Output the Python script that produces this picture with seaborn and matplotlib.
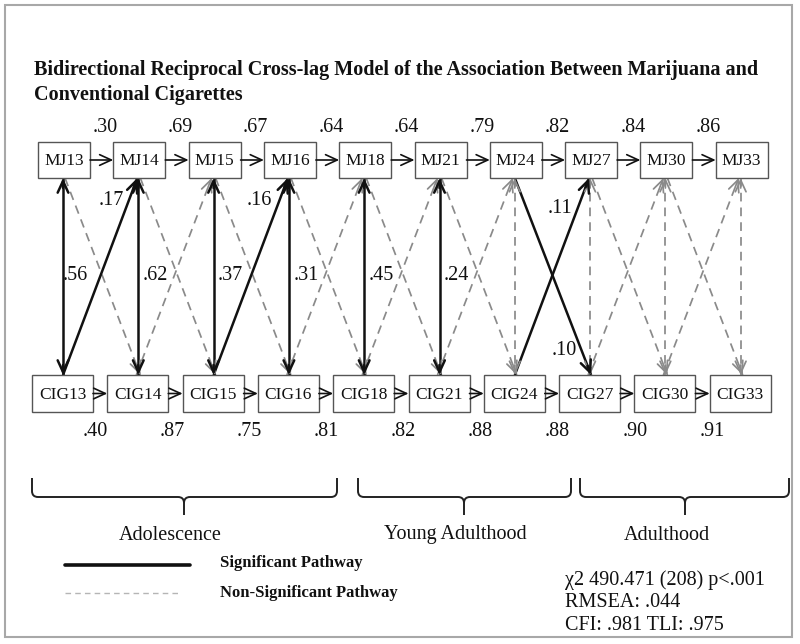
import numpy as np
import pandas as pd
import matplotlib
matplotlib.use("Agg")
import matplotlib.pyplot as plt
import seaborn as sns
from matplotlib.patches import Rectangle, PathPatch
from matplotlib.path import Path

# ---------------- data ----------------
ages = [13, 14, 15, 16, 18, 21, 24, 27, 30, 33]
mj_nodes = [f"MJ{a}" for a in ages]
cig_nodes = [f"CIG{a}" for a in ages]
mj_stability = [".30", ".69", ".67", ".64", ".64", ".79", ".82", ".84", ".86"]
cig_stability = [".40", ".87", ".75", ".81", ".82", ".88", ".88", ".90", ".91"]
concurrent_r = [".56", ".62", ".37", ".31", ".45", ".24", "", "", "", ""]
concurrent_sig = [True, True, True, True, True, True, False, False, False, False]
cig_to_mj = [".17", "", ".16", "", "", "", ".11", "", ""]   # CIG_t -> MJ_t+1
mj_to_cig = ["", "", "", "", "", "", ".10", "", ""]         # MJ_t -> CIG_t+1
stages = ["Adolescence", "Young Adulthood", "Adulthood"]
title_lines = ["Bidirectional Reciprocal Cross-lag Model of the Association Between Marijuana and",
               "Conventional Cigarettes"]
legend_labels = ["Significant Pathway", "Non-Significant Pathway"]
fit_lines = ["\u03c72 490.471 (208) p<.001", "RMSEA: .044", "CFI: .981 TLI: .975"]

# ---------------- style ----------------
sns.set_theme(style="white")
plt.rcParams["font.family"] = ["Liberation Serif", "DejaVu Serif"]

W, H = 800, 644
fig = plt.figure(figsize=(W / 100, H / 100), dpi=100)
ax = fig.add_axes([0, 0, 1, 1])
ax.set_xlim(0, W)
ax.set_ylim(H, 0)
ax.axis("off")

BLACK = "#111111"
GREY = "#8a8a8a"
pitch = 75.3
mj_left0, mj_w, mj_top, mj_bot = 38, 52, 142, 178
cig_left0, cig_w, cig_top, cig_bot = 32, 61, 375, 412
n = len(ages)
mj_l = [mj_left0 + pitch * i for i in range(n)]
cig_l = [cig_left0 + pitch * i for i in range(n)]
mj_c = [x + mj_w / 2 for x in mj_l]
cig_c = [x + cig_w / 2 for x in cig_l]
vx = [63 + pitch * i for i in range(n)]

head = "->,head_length=0.7,head_width=0.32"


def head_at(x0, y0, x1, y1, color, lw):
    d = np.array([x1 - x0, y1 - y0], float)
    d /= np.hypot(*d)
    start = (x1 - d[0] * 10, y1 - d[1] * 10)
    ax.annotate("", xy=(x1, y1), xytext=start,
                arrowprops=dict(arrowstyle=head, color=color, lw=lw,
                                shrinkA=0, shrinkB=0))


def path_arrow(x0, y0, x1, y1, sig, both=False):
    if sig:
        color, lw, ls = BLACK, 1.8, "-"
    else:
        color, lw, ls = GREY, 1.25, (0, (5, 3.5))
    ax.plot([x0, x1], [y0, y1], color=color, lw=lw, linestyle=ls,
            solid_capstyle="butt", zorder=2)
    head_at(x0, y0, x1, y1, color, lw)
    if both:
        head_at(x1, y1, x0, y0, color, lw)


# boxes
for i in range(n):
    ax.add_patch(Rectangle((mj_l[i], mj_top), mj_w, mj_bot - mj_top,
                           fc="white", ec="#555555", lw=1.0, zorder=3))
    ax.text(mj_c[i], (mj_top + mj_bot) / 2 + 1, mj_nodes[i], ha="center",
            va="center", fontsize=12.5, color=BLACK, zorder=4)
    ax.add_patch(Rectangle((cig_l[i], cig_top), cig_w, cig_bot - cig_top,
                           fc="white", ec="#555555", lw=1.0, zorder=3))
    ax.text(cig_c[i], (cig_top + cig_bot) / 2 + 1, cig_nodes[i], ha="center",
            va="center", fontsize=12.5, color=BLACK, zorder=4)

# autoregressive arrows
for i in range(n - 1):
    ax.annotate("", xy=(mj_l[i + 1], 160), xytext=(mj_l[i] + mj_w, 160),
                arrowprops=dict(arrowstyle=head, color=BLACK, lw=1.2,
                                shrinkA=0, shrinkB=0))
    ax.annotate("", xy=(cig_l[i + 1], 393.5), xytext=(cig_l[i] + cig_w, 393.5),
                arrowprops=dict(arrowstyle=head, color=BLACK, lw=1.2,
                                shrinkA=0, shrinkB=0))
    ax.text(105 + 75.4 * i, 127, mj_stability[i], ha="center", va="center",
            fontsize=14.5, color=BLACK)
    ax.text(95 + 77.1 * i, 431, cig_stability[i], ha="center", va="center",
            fontsize=14.5, color=BLACK)

# cross-lag arrows (non-significant first, so significant on top)
for i in range(n - 1):
    for lab, (x0, y0, x1, y1) in [
            (mj_to_cig[i], (vx[i] + 2, mj_bot, vx[i + 1] + 2, cig_top)),
            (cig_to_mj[i], (vx[i] - 2, cig_top, vx[i + 1] - 2, mj_bot))]:
        if lab == "":
            path_arrow(x0, y0, x1, y1, False)

# concurrent correlations
for i in range(n):
    path_arrow(vx[i], mj_bot, vx[i], cig_top, concurrent_sig[i], both=True)
    if concurrent_r[i]:
        off = 12 if i == 0 else 17
        ax.text(vx[i] + off, 275, concurrent_r[i], ha="center", va="center",
                fontsize=14.5, color=BLACK)

for i in range(n - 1):
    if cig_to_mj[i]:
        path_arrow(vx[i], cig_top, vx[i + 1] - 1, mj_bot, True)
    if mj_to_cig[i]:
        path_arrow(vx[i], mj_bot, vx[i + 1] + 1, cig_top, True)

# significant cross-lag labels
cross_pos = {0: (111, 200), 2: (259, 200), 6: (560, 208)}
for i, lab in enumerate(cig_to_mj):
    if lab:
        ax.text(*cross_pos[i], lab, ha="center", va="center", fontsize=14.5, color=BLACK)
for i, lab in enumerate(mj_to_cig):
    if lab:
        ax.text(564, 350, lab, ha="center", va="center", fontsize=14.5, color=BLACK)

# braces
braces = [(32, 337, 184), (358, 571, 464), (580, 789, 685)]
label_x = [170, 455, 667]
for (x0, x1, xm), lab, lx in zip(braces, stages, label_x):
    yt, yh, yp = 478, 497, 515
    r = 6
    verts = [(x0, yt), (x0, yh - r), (x0, yh), (x0 + r, yh), (xm - r, yh),
             (xm, yh), (xm, yh + r), (xm, yp)]
    codes = [Path.MOVETO, Path.LINETO, Path.CURVE3, Path.CURVE3, Path.LINETO,
             Path.CURVE3, Path.CURVE3, Path.LINETO]
    ax.add_patch(PathPatch(Path(verts, codes), fc="none", ec="#222222", lw=1.4))
    verts = [(x1, yt), (x1, yh - r), (x1, yh), (x1 - r, yh), (xm + r, yh),
             (xm, yh), (xm, yh + r)]
    codes = [Path.MOVETO, Path.LINETO, Path.CURVE3, Path.CURVE3, Path.LINETO,
             Path.CURVE3, Path.CURVE3]
    ax.add_patch(PathPatch(Path(verts, codes), fc="none", ec="#222222", lw=1.4))
    ax.text(lx, 535, lab, ha="center", va="center", fontsize=14.5, color=BLACK)

# legend
leg = pd.DataFrame({"x": [65, 190, 65, 180], "y": [565, 565, 593, 593],
                    "kind": ["sig", "sig", "ns", "ns"]})
sns.lineplot(data=leg[leg.kind == "sig"], x="x", y="y", color=BLACK, lw=2.6,
             ax=ax, legend=False)
sns.lineplot(data=leg[leg.kind == "ns"], x="x", y="y", color="#b5b5b5", lw=1.0,
             linestyle=(0, (4, 3)), ax=ax, legend=False)
ax.set_xlim(0, W)
ax.set_ylim(H, 0)
ax.axis("off")
ax.text(220, 563, legend_labels[0], ha="left", va="center", fontsize=12,
        fontweight="bold", color=BLACK)
ax.text(220, 593, legend_labels[1], ha="left", va="center", fontsize=12,
        fontweight="bold", color=BLACK)
for k, t in enumerate(fit_lines):
    ax.text(565, 580 + 22.5 * k, t, ha="left", va="center", fontsize=14.5, color=BLACK)

# title
ax.text(34, 70, title_lines[0], ha="left", va="center", fontsize=14.5,
        fontweight="bold", color=BLACK)
ax.text(34, 95, title_lines[1], ha="left", va="center", fontsize=14.5,
        fontweight="bold", color=BLACK)

# frame
ax.add_patch(Rectangle((5, 5), 787, 632, fc="none", ec="#a8a8a8", lw=1.5))

fig.savefig("out.png", dpi=100)
